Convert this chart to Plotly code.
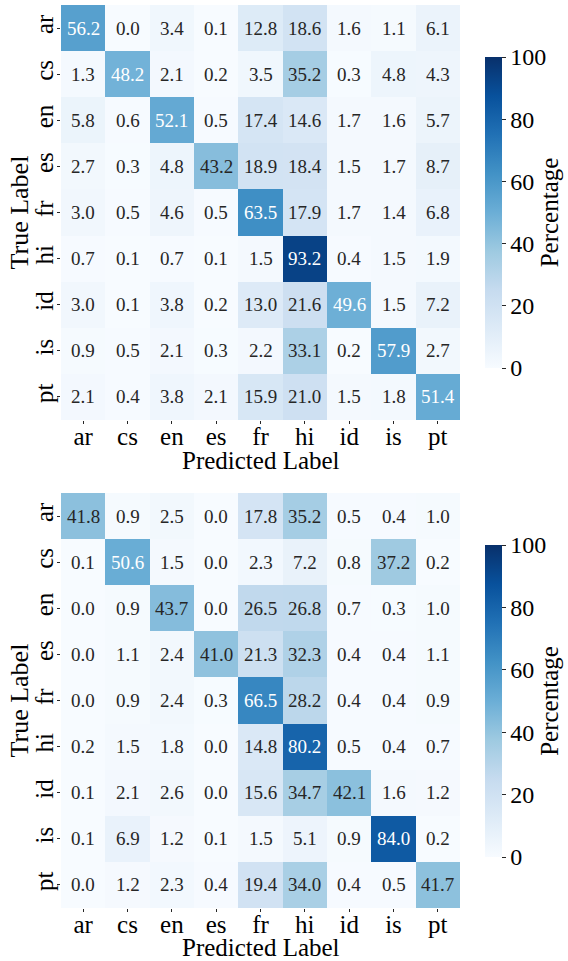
import plotly.graph_objects as go

# Language labels shared by both confusion matrices
labels = ["ar", "cs", "en", "es", "fr", "hi", "id", "is", "pt"]

# Row-normalised confusion matrix (%), first model
cm_top = [
    [56.2, 0.0, 3.4, 0.1, 12.8, 18.6, 1.6, 1.1, 6.1],
    [1.3, 48.2, 2.1, 0.2, 3.5, 35.2, 0.3, 4.8, 4.3],
    [5.8, 0.6, 52.1, 0.5, 17.4, 14.6, 1.7, 1.6, 5.7],
    [2.7, 0.3, 4.8, 43.2, 18.9, 18.4, 1.5, 1.7, 8.7],
    [3.0, 0.5, 4.6, 0.5, 63.5, 17.9, 1.7, 1.4, 6.8],
    [0.7, 0.1, 0.7, 0.1, 1.5, 93.2, 0.4, 1.5, 1.9],
    [3.0, 0.1, 3.8, 0.2, 13.0, 21.6, 49.6, 1.5, 7.2],
    [0.9, 0.5, 2.1, 0.3, 2.2, 33.1, 0.2, 57.9, 2.7],
    [2.1, 0.4, 3.8, 2.1, 15.9, 21.0, 1.5, 1.8, 51.4],
]

# Row-normalised confusion matrix (%), second model
cm_bottom = [
    [41.8, 0.9, 2.5, 0.0, 17.8, 35.2, 0.5, 0.4, 1.0],
    [0.1, 50.6, 1.5, 0.0, 2.3, 7.2, 0.8, 37.2, 0.2],
    [0.0, 0.9, 43.7, 0.0, 26.5, 26.8, 0.7, 0.3, 1.0],
    [0.0, 1.1, 2.4, 41.0, 21.3, 32.3, 0.4, 0.4, 1.1],
    [0.0, 0.9, 2.4, 0.3, 66.5, 28.2, 0.4, 0.4, 0.9],
    [0.2, 1.5, 1.8, 0.0, 14.8, 80.2, 0.5, 0.4, 0.7],
    [0.1, 2.1, 2.6, 0.0, 15.6, 34.7, 42.1, 1.6, 1.2],
    [0.1, 6.9, 1.2, 0.1, 1.5, 5.1, 0.9, 84.0, 0.2],
    [0.0, 1.2, 2.3, 0.4, 19.4, 34.0, 0.4, 0.5, 41.7],
]

cbar_ticks = [0, 20, 40, 60, 80, 100]

W, H = 568, 961
FONT = "Liberation Serif, Times New Roman, serif"
TXT = "#262626"

blues = [
    [0.000, "#f7fbff"], [0.125, "#deebf7"], [0.250, "#c6dbef"],
    [0.375, "#9ecae1"], [0.500, "#6baed6"], [0.625, "#4292c6"],
    [0.750, "#2171b5"], [0.875, "#08519c"], [1.000, "#08306b"],
]

# pixel geometry of the two panels (top, bottom) and colourbars
x0, x1 = 61, 460
panels = [(5, 420), (493, 908)]
cbars = [(57, 368), (545, 857)]
xtitle_y = [460, 947]


def fy(px):
    return 1 - px / H


fig = go.Figure()
annotations = []

for i, (cm, (t, b), (ct, cb)) in enumerate(zip([cm_top, cm_bottom], panels, cbars)):
    sfx = "" if i == 0 else str(i + 1)
    fig.add_trace(go.Heatmap(
        z=cm, x=labels, y=labels,
        xaxis="x" + sfx, yaxis="y" + sfx,
        zmin=0, zmax=100, colorscale=blues,
        xgap=0, ygap=0, hoverinfo="skip",
        colorbar=dict(
            x=485 / W, xanchor="left", xpad=0, ypad=0,
            y=fy(ct), yanchor="top",
            len=cb - ct, lenmode="pixels",
            thickness=17, outlinewidth=0,
            tickvals=cbar_ticks, ticks="outside", ticklen=4,
            tickcolor=TXT, tickwidth=1,
            tickfont=dict(family=FONT, size=24, color="black"),
            title=dict(text="Percentage", side="right",
                       font=dict(family=FONT, size=25, color="black")),
        ),
    ))
    for r, row in enumerate(cm):
        for c, v in enumerate(row):
            annotations.append(dict(
                x=labels[c], y=labels[r],
                xref="x" + sfx, yref="y" + sfx,
                text=f"{v:.1f}", showarrow=False,
                font=dict(family=FONT, size=19,
                          color="white" if v > 45 else TXT),
            ))
    # axis titles
    annotations.append(dict(
        x=(x0 + x1) / 2 / W, y=fy(xtitle_y[i]), xref="paper", yref="paper",
        text="Predicted Label", showarrow=False, xanchor="center", yanchor="middle",
        font=dict(family=FONT, size=25, color="black"),
    ))
    annotations.append(dict(
        x=19 / W, y=fy((t + b) / 2), xref="paper", yref="paper",
        text="True Label", showarrow=False, textangle=-90,
        xanchor="center", yanchor="middle",
        font=dict(family=FONT, size=26, color="black"),
    ))
    axx = dict(
        domain=[x0 / W, x1 / W], anchor="y" + sfx,
        showgrid=False, zeroline=False, showline=False,
        ticks="outside", ticklen=3, tickcolor=TXT,
        ticklabelstandoff=-9,
        tickfont=dict(family=FONT, size=25, color="black"),
    )
    axy = dict(
        domain=[fy(b), fy(t)], anchor="x" + sfx,
        autorange="reversed",
        showgrid=False, zeroline=False, showline=False,
        ticks="outside", ticklen=3, tickcolor=TXT, tickangle=-90,
        ticklabelstandoff=-6,
        tickfont=dict(family=FONT, size=25, color="black"),
    )
    fig.update_layout(**{"xaxis" + sfx: axx, "yaxis" + sfx: axy})

fig.update_layout(
    width=W, height=H,
    margin=dict(l=0, r=0, t=0, b=0),
    paper_bgcolor="white", plot_bgcolor="white",
    annotations=annotations,
    showlegend=False,
)

fig.write_html("out.html")
